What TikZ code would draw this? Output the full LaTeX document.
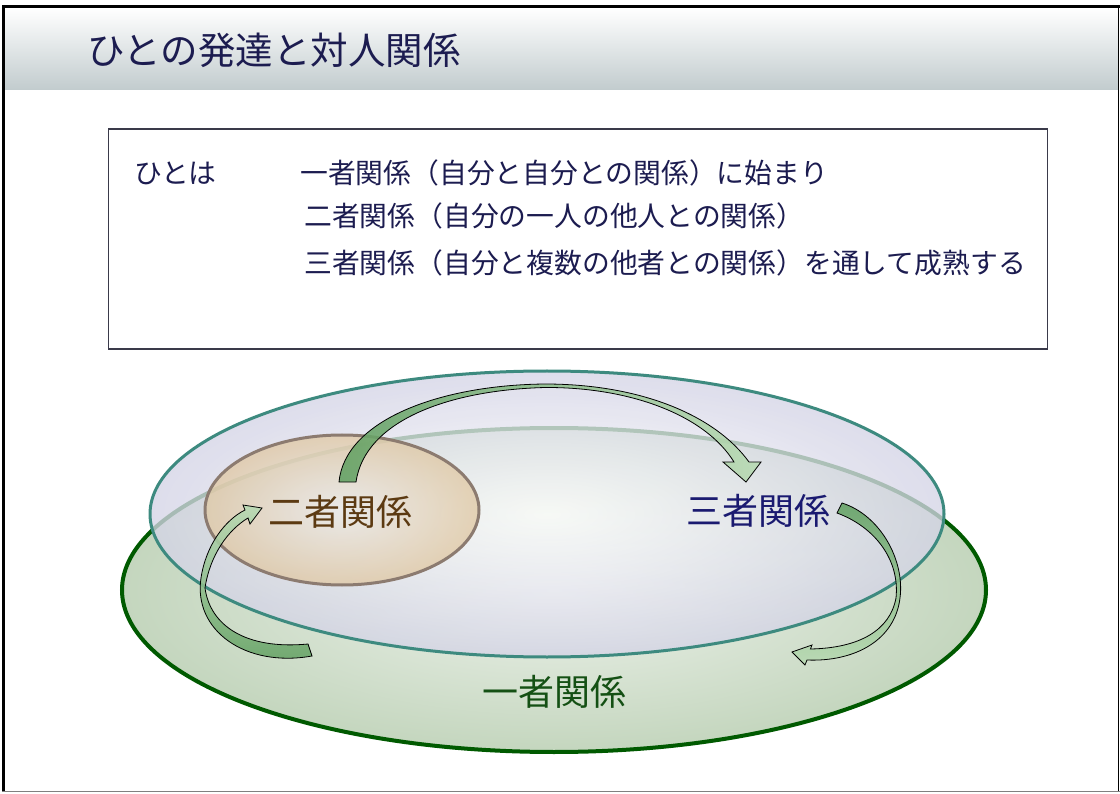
\documentclass[tikz,border=0pt]{standalone}
\usepackage{fontspec}
\setmainfont{Noto Sans CJK JP}
\usetikzlibrary{shapes.geometric}
\definecolor{navytxt}{HTML}{1C1C50}
\definecolor{bandgray}{HTML}{C2CCCE}
\definecolor{boxline}{HTML}{3A3A4A}
\definecolor{oneline}{HTML}{005A00}
\definecolor{oneinner}{HTML}{EDF2EB}
\definecolor{oneouter}{HTML}{C4D6BE}
\definecolor{threeline}{HTML}{3D8A7F}
\definecolor{threeinner}{HTML}{FFFFFF}
\definecolor{threeouter}{HTML}{D4D4E6}
\definecolor{twoline}{HTML}{8C7B70}
\definecolor{twoinner}{HTML}{ECEAE8}
\definecolor{twoouter}{HTML}{E0C9A6}
\definecolor{twotxt}{HTML}{5C3A12}
\definecolor{threetxt}{HTML}{1A1A70}
\definecolor{onetxt}{HTML}{145014}
\definecolor{ardark}{HTML}{62A062}
\definecolor{arlight}{HTML}{B8DAB3}
\begin{document}
\begin{tikzpicture}[x=1pt,y=-1pt,
  txt/.style={anchor=west,inner sep=0pt,text=navytxt,font=\fontsize{27.8}{30}\selectfont},
  lab/.style={inner sep=0pt,font=\fontsize{36}{40}\selectfont},
  oval/.style={ellipse,inner sep=0pt},
  blockarrow/.style={draw=black,line width=0.8pt,fill opacity=0.88}]
\useasboundingbox (0,0) rectangle (1120,794);
\fill[white] (0,0) rectangle (1120,794);
% title band
\shade[top color=white,bottom color=bandgray] (5,8) rectangle (1118,89.5);
% frame
\draw[line width=3.5pt] (3.4,5) -- (3.4,792);
\draw[line width=3pt] (2,6.3) -- (1119.5,6.3);
\draw[line width=1.3pt] (1118.7,5) -- (1118.7,792);
\draw[line width=1.6pt,gray] (2,791.6) -- (1119.5,791.6);
% title
\node[anchor=west,inner sep=0pt,text=navytxt,font=\fontsize{37.5}{40}\selectfont] (title) at (87,50) {ひとの発達と対人関係};
% text box
\node[draw=boxline,line width=1.5pt,minimum width=939pt,minimum height=220pt,inner sep=0pt] (box) at (578,239) {};
\node[txt] (hito) at (134,173) {ひとは};
\node[txt] (l1) at (300,173) {一者関係（自分と自分との関係）に始まり};
\node[txt] (l2) at (304,216) {二者関係（自分の一人の他人との関係）};
\node[txt] (l3) at (304,263) {三者関係（自分と複数の他者との関係）を通して成熟する};
% ellipses
\node[oval,draw=oneline,line width=4pt,inner color=oneinner,outer color=oneouter,minimum width=864pt,minimum height=324pt] (one) at (554,590) {};
\node[oval,draw=threeline,line width=3pt,inner color=threeinner,outer color=threeouter,fill opacity=0.78,minimum width=794pt,minimum height=286pt] (three) at (547,514) {};
\node[oval,draw=twoline,line width=3pt,inner color=twoinner,outer color=twoouter,fill opacity=0.8,minimum width=274pt,minimum height=150pt] (two) at (342,510) {};
% labels
\node[lab,text=twotxt] (twolab) at (340,512) {二者関係};
\node[lab,text=threetxt] (threelab) at (758,511) {三者関係};
\node[lab,text=onetxt] (onelab) at (554,692) {一者関係};
% block arrows
\path[blockarrow,left color=ardark,right color=arlight]
  (339,482) .. controls (345,420) and (440,385) .. (545,384)
  .. controls (640,384) and (715,415) .. (749,462)
  -- (761,462) -- (746,482) -- (723,462) -- (734,462)
  .. controls (705,415) and (630,387) .. (545,387.5)
  .. controls (450,390) and (365,420) .. (356,482) -- cycle;
\path[blockarrow,top color=arlight,bottom color=ardark]
  (312,656) .. controls (245,668) and (193,630) .. (201,578)
  .. controls (206,545) and (225,520) .. (245,510)
  -- (243,505) -- (262,508) -- (250,524) -- (248,518)
  .. controls (228,530) and (210,555) .. (205,588)
  .. controls (210,625) and (245,650) .. (308,644) -- cycle;
\path[blockarrow,top color=ardark,bottom color=arlight]
  (842,503) .. controls (880,515) and (905,560) .. (900,598)
  .. controls (895,640) and (855,662) .. (807,660)
  -- (805,665) -- (792,652) -- (812,645) -- (810.5,649)
  .. controls (860,648) and (890,630) .. (896,598)
  .. controls (900,560) and (875,527) .. (837,513) -- cycle;
\end{tikzpicture}
\end{document}
